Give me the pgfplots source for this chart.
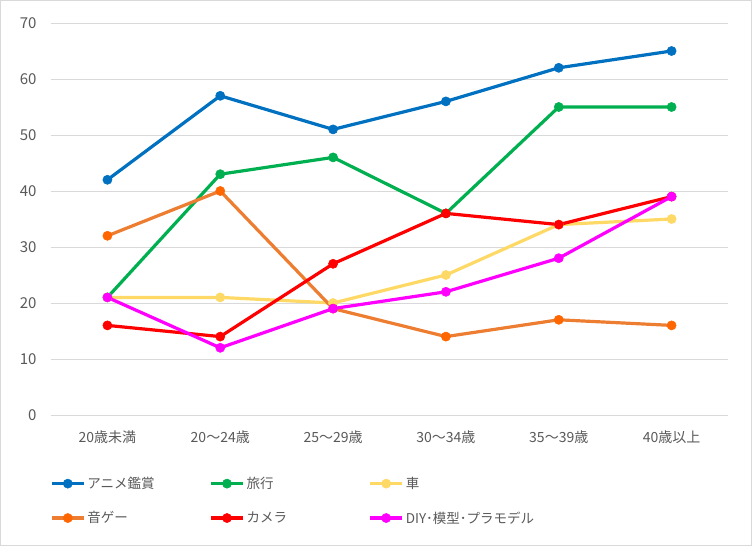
\documentclass[border=0pt]{standalone}
\usepackage{pgfplots}
\pgfplotsset{compat=1.18}
\usepackage{fontspec}
\setmainfont{Noto Sans CJK JP}

\definecolor{cBlue}{HTML}{0070C0}
\definecolor{cGreen}{HTML}{00B050}
\definecolor{cYellow}{HTML}{FFD966}
\definecolor{cOrange}{HTML}{ED7D31}
\definecolor{cOrangeMark}{HTML}{FF6600}
\definecolor{cRed}{HTML}{FF0000}
\definecolor{cMagenta}{HTML}{FF00FF}
\definecolor{gridgray}{HTML}{D9D9D9}
\definecolor{tickgray}{HTML}{595959}
\definecolor{framegray}{HTML}{D9D9D9}

\newcommand{\lbl}{\fontsize{14}{16}\selectfont}
\newcommand{\ylbl}{\fontsize{15}{17}\selectfont}
\newcommand{\leg}{\fontsize{13.5}{16}\selectfont}

\begin{document}
\begin{tikzpicture}
\begin{axis}[
  name=ax,
  at={(0,0)}, anchor=south west,
  scale only axis, width=677pt, height=392pt,
  xmin=-0.5, xmax=5.5, ymin=0, ymax=70,
  xtick={0,...,5},
  xticklabels={20歳未満,20～24歳,25～29歳,30～34歳,35～39歳,40歳以上},
  ytick={0,10,...,70},
  axis line style={draw=none},
  major tick length=0pt,
  ymajorgrids,
  grid style={draw=gridgray, line width=0.8pt},
  tick label style={text=tickgray},
  xticklabel style={font=\lbl, yshift=-12pt},
  yticklabel style={font=\ylbl, xshift=-11pt},
  /pgf/number format/assume math mode=true,
  every axis plot/.append style={line width=3.2pt, mark=*, mark size=4.6pt},
  legend columns=3,
  legend cell align=left,
  legend style={at={(0,0)}, anchor=north west, yshift=-60pt, xshift=-1pt,
    draw=none, fill=none, font=\leg, text=tickgray,
    row sep=17.5pt, inner sep=0pt},
  legend image code/.code={\draw[mark repeat=2,mark phase=2,#1]
    plot coordinates {(0pt,0pt) (16pt,0pt) (32pt,0pt)};},
  clip=false,
]
\addplot[cBlue, mark options={fill=cBlue, line width=0.5pt}] coordinates
  {(0,42) (1,57) (2,51) (3,56) (4,62) (5,65)};
\addlegendentry{\makebox[120pt][l]{アニメ鑑賞}}
\addplot[cGreen, mark options={fill=cGreen, line width=0.5pt}] coordinates
  {(0,21) (1,43) (2,46) (3,36) (4,55) (5,55)};
\addlegendentry{\makebox[120pt][l]{旅行}}
\addplot[cYellow, mark options={fill=cYellow, line width=0.5pt}] coordinates
  {(0,21) (1,21) (2,20) (3,25) (4,34) (5,35)};
\addlegendentry{車}
\addplot[cOrange, mark options={draw=cOrangeMark, fill=cOrangeMark, line width=0.5pt}] coordinates
  {(0,32) (1,40) (2,19) (3,14) (4,17) (5,16)};
\addlegendentry{\makebox[120pt][l]{音ゲー}}
\addplot[cRed, mark options={fill=cRed, line width=0.5pt}] coordinates
  {(0,16) (1,14) (2,27) (3,36) (4,34) (5,39)};
\addlegendentry{\makebox[120pt][l]{カメラ}}
\addplot[cMagenta, mark options={fill=cMagenta, line width=0.5pt}] coordinates
  {(0,21) (1,12) (2,19) (3,22) (4,28) (5,39)};
\addlegendentry{DIY･模型･プラモデル}
\end{axis}
\pgfresetboundingbox
\path[use as bounding box] ([shift={(-51pt,-131pt)}]ax.south west) rectangle ([shift={(701pt,415pt)}]ax.south west);
\draw[framegray, line width=1pt] ([shift={(-50.5pt,-130.5pt)}]ax.south west) rectangle ([shift={(700.5pt,414.5pt)}]ax.south west);
\end{tikzpicture}
\end{document}
